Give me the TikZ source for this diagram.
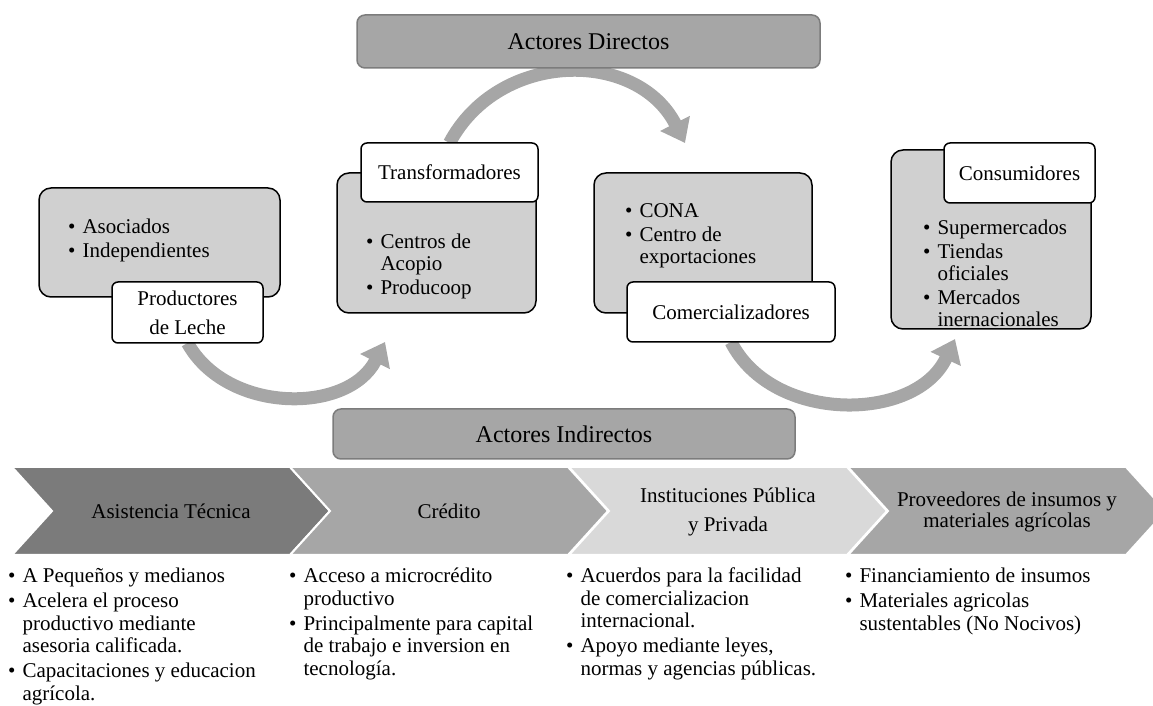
\documentclass[tikz,border=0pt]{standalone}
\usepackage{fontspec}
\setmainfont{Liberation Serif}
\usetikzlibrary{arrows.meta,backgrounds}
\definecolor{cajagris}{HTML}{D0D0D0}
\definecolor{flecha}{HTML}{A6A6A6}
\definecolor{borde}{HTML}{7C7C7C}
\definecolor{chevuno}{HTML}{7B7B7B}
\definecolor{chevtres}{HTML}{D9D9D9}
\newcommand{\lista}[1]{\begin{tabular}[t]{@{}l@{\hspace{7pt}}l@{}}#1\end{tabular}}

\begin{document}
\begin{tikzpicture}[x=1pt, y=1pt, font=\fontsize{21}{22.5}\selectfont,
  actor/.style={draw=borde, fill=flecha, line width=1.5pt, rounded corners=8pt, outer sep=0pt,
    font=\fontsize{24}{28}\selectfont},
  fondo/.style={draw, fill=cajagris, line width=1.5pt, rounded corners=12pt, outer sep=0pt},
  etiqueta/.style={draw, fill=white, line width=1.5pt, rounded corners=6pt, outer sep=0pt, align=center},
  flujo/.style={draw=flecha, line width=13pt, -{Triangle[width=32pt,length=22pt]}},
  bala/.style={anchor=base west, inner sep=0pt},
  balaalta/.style={bala, font=\fontsize{21}{22}\selectfont}]
\useasboundingbox (0,0) rectangle (1153,706);

\node[actor, minimum width=463pt, minimum height=53pt] (directos) at (588.5,664.5) {Actores Directos};
\node[actor, minimum width=462pt, minimum height=50pt] (indirectos) at (564,272) {Actores Indirectos};

% actores directos
\node[fondo, minimum width=241pt, minimum height=109pt] (prodFondo) at (159.5,463.5) {};
\node[balaalta] (prodLista) at (68,472) {\lista{\textbullet & Asociados\\[2pt] \textbullet & Independientes}};
\node[etiqueta, minimum width=151pt, minimum height=61pt, font=\fontsize{21}{29}\selectfont] (prodEtiq) at (187.5,393.5) {Productores\\de Leche};

\node[fondo, minimum width=199pt, minimum height=140pt] (transFondo) at (436.5,463) {};
\node[balaalta] (transLista) at (366,457) {\lista{\textbullet & Centros de\\ & Acopio\\[2pt] \textbullet & Producoop}};
\node[etiqueta, minimum width=177pt, minimum height=59pt] (transEtiq) at (449.5,533.5) {Transformadores};

\node[fondo, minimum width=218pt, minimum height=140pt] (comFondo) at (703,463) {};
\node[balaalta] (comLista) at (625,488) {\lista{\textbullet & CONA\\[2pt] \textbullet & Centro de\\ & exportaciones}};
\node[etiqueta, minimum width=208pt, minimum height=60pt] (comEtiq) at (731,394) {Comercializadores};

\node[fondo, minimum width=200pt, minimum height=179pt] (consFondo) at (991,466.5) {};
\node[balaalta] (consLista) at (923,471) {\lista{\textbullet & Supermercados\\[2pt] \textbullet & Tiendas\\ & oficiales\\[2pt] \textbullet & Mercados\\ & inernacionales}};
\node[etiqueta, minimum width=151pt, minimum height=60pt] (consEtiq) at (1019.5,533) {Consumidores};

\coordinate (puntaTrans) at (385,364);
\coordinate (puntaCom) at (685,563);
\coordinate (puntaCons) at (955,367);
\begin{scope}[on background layer]
\draw[flujo] (prodEtiq.south) to[out=-61, in=-117, looseness=1.05] (puntaTrans);
\draw[flujo] (transEtiq.north) to[out=62, in=117, looseness=1.15] (puntaCom);
\draw[flujo] (comEtiq.south) to[out=-63, in=-115, looseness=1.05] (puntaCons);
\end{scope}

% actores indirectos
\foreach \x/\c in {12/chevuno, 290/flecha, 569/chevtres, 848/flecha}
  \filldraw[fill=\c, draw=white, line width=2pt] (\x,239) -- ++(278,0) -- ++(40,-44) -- ++(-40,-44)
    -- ++(-278,0) -- ++(40,44) -- cycle;
\node (asistencia) at (171,195) {Asistencia Técnica};
\node (credito) at (449,195) {Crédito};
\node[align=center] (instituciones) at (728,194) {Instituciones Pública\\[7pt]y Privada};
\node[align=center] (proveedores) at (1007,194) {Proveedores de insumos y\\[-1pt]materiales agrícolas};

\node[bala] (asistLista) at (8,123) {\lista{\textbullet & A Pequeños y medianos\\[2.5pt]
  \textbullet & Acelera el proceso\\ & productivo mediante\\ & asesoria calificada.\\[2.5pt]
  \textbullet & Capacitaciones y educacion\\ & agrícola.}};
\node[bala] (credLista) at (289,123) {\lista{\textbullet & Acceso a microcrédito\\ & productivo\\[2.5pt]
  \textbullet & Principalmente para capital\\ & de trabajo e inversion en\\ & tecnología.}};
\node[bala] (instLista) at (566,123) {\lista{\textbullet & Acuerdos para la facilidad\\ & de comercializacion\\ & internacional.\\[2.5pt]
  \textbullet & Apoyo mediante leyes,\\ & normas y agencias públicas.}};
\node[bala] (provLista) at (845,123) {\lista{\textbullet & Financiamiento de insumos\\[2.5pt]
  \textbullet & Materiales agricolas\\ & sustentables (No Nocivos)}};
\end{tikzpicture}
\end{document}
